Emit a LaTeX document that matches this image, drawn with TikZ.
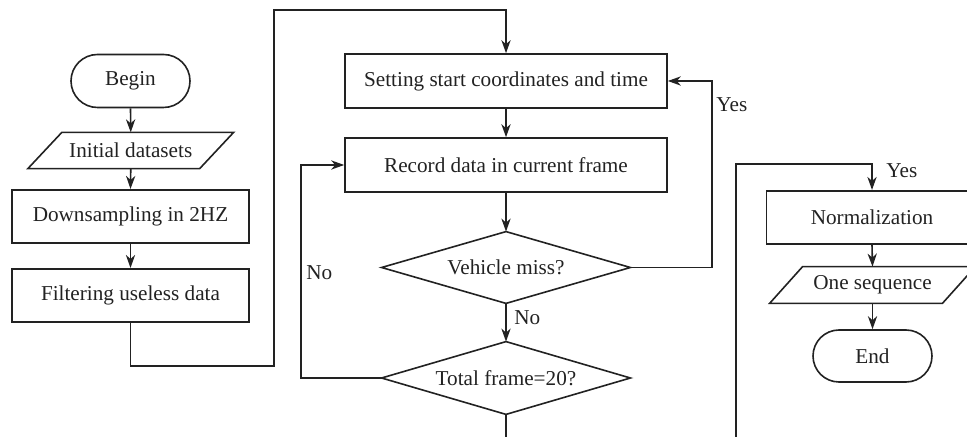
\documentclass[tikz,border=0pt]{standalone}
\usepackage{fontspec}
\setmainfont{Liberation Serif}
\usetikzlibrary{arrows.meta}
\definecolor{ink}{HTML}{222222}
\tikzset{
  box/.style={draw, line width=0.8pt, inner sep=0pt, minimum width=#1, minimum height=26.75pt},
  term/.style={draw, line width=0.8pt, inner sep=0pt, minimum width=59.5pt, minimum height=26.5pt, rounded corners=13.25pt},
  hid/.style={inner sep=0pt},
  arr/.style={line width=0.8pt, -{Stealth[length=6.5pt,width=4.6pt,inset=2pt]}},
  ln/.style={line width=0.8pt},
  lbl/.style={inner sep=0pt, anchor=west}
}
\begin{document}
\begin{tikzpicture}[x=0.5pt, y=-0.5pt, font=\fontsize{10.6}{12.7}\selectfont, color=ink]
\useasboundingbox (0,0) rectangle (967,437);
\clip (0,0) rectangle (967,437);
% left column
\node[term] (begin) at (130.5,81) {Begin};
\node[hid, minimum width=85.5pt, minimum height=17.75pt] (init) at (130.75,150.5) {Initial datasets};
\draw[ln] ([xshift=8.5pt]init.north west) -- ([xshift=8.5pt]init.north east) -- ([xshift=-8.5pt]init.south east) -- ([xshift=-8.5pt]init.south west) -- cycle;
\node[box=118.5pt] (down) at (130.5,216.5) {Downsampling in 2HZ};
\node[box=118.5pt] (filt) at (130.5,295.5) {Filtering useless data};
% middle column
\node[box=161pt, minimum height=27pt] (set) at (506,81) {Setting start coordinates and time};
\node[box=161pt, minimum height=27pt] (rec) at (506,165) {Record data in current frame};
\node[hid, minimum width=124pt, minimum height=35.5pt] (veh) at (506,267.5) {Vehicle miss?};
\draw[ln] (veh.north) -- (veh.east) -- (veh.south) -- (veh.west) -- cycle;
\node[hid, minimum width=124pt, minimum height=36pt] (tot) at (506,378) {Total frame=20?};
\draw[ln] (tot.north) -- (tot.east) -- (tot.south) -- (tot.west) -- cycle;
% right column
\node[box=105.5pt] (norm) at (872,217.5) {Normalization};
\node[hid, minimum width=86pt, minimum height=18pt] (seq) at (872.5,285) {One sequence};
\draw[ln] ([xshift=8.25pt]seq.north west) -- ([xshift=8.25pt]seq.north east) -- ([xshift=-8.25pt]seq.south east) -- ([xshift=-8.25pt]seq.south west) -- cycle;
\node[term, minimum height=26pt, rounded corners=13pt] (end) at (872.5,356) {End};
% coordinates
\coordinate (c1) at (274,366);
\coordinate (c2) at (274,10);
\coordinate (c3) at (712,267.5);
\coordinate (c4) at (301,378);
\coordinate (c5) at (506,450);
\coordinate (c6) at (736,450);
\coordinate (c7) at (736,164);
% connectors
\draw[arr] (begin.south) -- (init.north);
\draw[arr] (init.south) -- (down.north);
\draw[arr] (down.south) -- (filt.north);
\draw[arr] (filt.south) |- (c1) -- (c2) -| (set.north);
\draw[arr] (set.south) -- (rec.north);
\draw[arr] (rec.south) -- (veh.north);
\draw[arr] (veh.east) -- (c3) |- (set.east);
\draw[arr] (veh.south) -- (tot.north);
\draw[arr] (tot.west) -- (c4) |- (rec.west);
\draw[ln] (tot.south) -- (c5);
\draw[arr] (c6) -- (c7) -| (norm.north);
\draw[arr] (norm.south) -- (seq.north);
\draw[arr] (seq.south) -- (end.north);
% labels
\node[lbl] (yes1) at (716,105) {Yes};
\node[lbl] (no1) at (514,318) {No};
\node[lbl] (no2) at (306,273) {No};
\node[lbl] (yes2) at (886,171) {Yes};
\end{tikzpicture}
\end{document}
